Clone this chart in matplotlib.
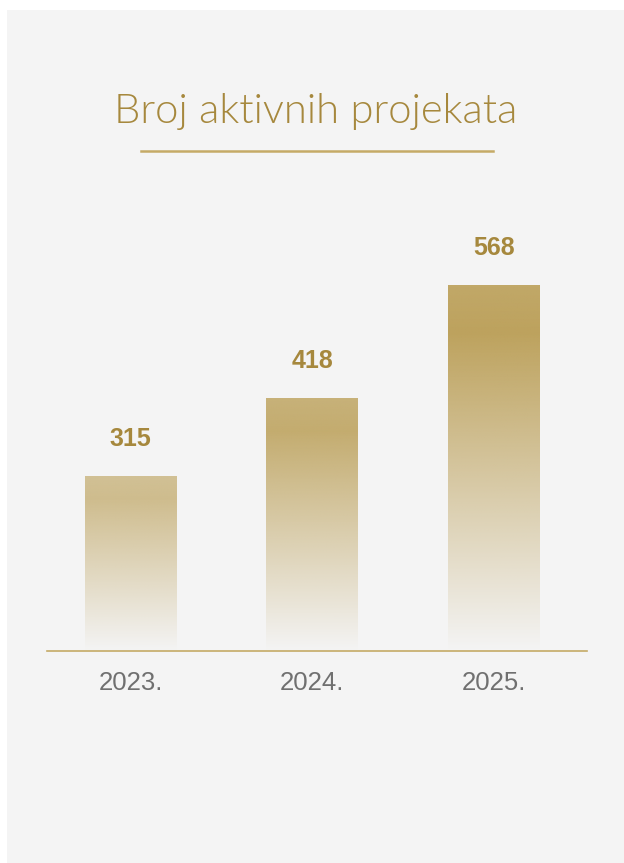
import numpy as np
import matplotlib.pyplot as plt
from matplotlib.patches import Rectangle
from matplotlib.lines import Line2D

# Podaci
years = ["2023.", "2024.", "2025."]
projects = [315, 418, 568]

# Boje
GOLD = "#bda25d"
TEXT_GOLD = "#a6883d"
LINE_GOLD = "#c5aa66"
PANEL = "#f4f4f4"
TICK_GRAY = "#707070"

# opacity of each bar (the smaller bars are lighter)
bar_fade = [0.68, 0.88, 1.0]


def gradient_rgba(n, strength):
    # top -> bottom: slightly light at top, full at ~13%, fading out at the bottom
    t = np.linspace(0, 1, n)
    alpha = np.interp(t, [0, 0.13, 1.0], [0.93, 1.0, 0.0]) * strength
    rgb = np.array(plt.matplotlib.colors.to_rgb(GOLD))
    img = np.zeros((n, 1, 4))
    img[:, 0, :3] = rgb
    img[:, 0, 3] = alpha
    return img


def main():
    fig = plt.figure(figsize=(6.24, 8.63), dpi=100)
    fig.patch.set_facecolor("white")

    # svijetlo sivi panel
    fig.patches.append(Rectangle((7 / 624, 0), 1, 853 / 863, transform=fig.transFigure,
                                 facecolor=PANEL, edgecolor="none", zorder=-10))

    ax = fig.add_axes([47 / 624, (863 - 651) / 863, 540 / 624, (651 - 180) / 863])
    ax.set_facecolor("none")

    x = np.arange(len(years))
    ymin, ymax = 84.3, 706
    bars = ax.bar(x, np.array(projects) - ymin, bottom=ymin, width=0.504,
                  color="none", edgecolor="none")

    # gradient u svakom stupcu
    for bar, s in zip(bars, bar_fade):
        x0, y0 = bar.get_x(), bar.get_y()
        img = gradient_rgba(300, s)
        im = ax.imshow(img, extent=(x0, x0 + bar.get_width(), y0, y0 + bar.get_height()),
                       origin="upper", aspect="auto", interpolation="bilinear", zorder=2)
        im.set_clip_path(bar)

    # vrijednosti iznad stupaca
    for xi, v in zip(x, projects):
        ax.annotate(str(v), xy=(xi, v), xytext=(0, 21.5), textcoords="offset points",
                    ha="center", va="baseline", fontsize=18, fontweight="bold",
                    family="Liberation Sans", color=TEXT_GOLD)

    ax.set_xlim(-0.46, 2.512)
    ax.set_ylim(ymin, ymax)

    for side in ["top", "left", "right"]:
        ax.spines[side].set_visible(False)
    ax.spines["bottom"].set_color(LINE_GOLD)
    ax.spines["bottom"].set_linewidth(1.2)

    ax.set_yticks([])
    ax.set_xticks(x)
    ax.set_xticklabels(years, fontsize=18.5, family="Liberation Sans", color=TICK_GRAY)
    ax.tick_params(axis="x", length=0, pad=14.5)

    # naslov
    fig.text(316 / 624, (863 - 123) / 863, "Broj aktivnih projekata", ha="center",
             va="baseline", fontsize=30.2, family="Lato", fontweight=300, color=TEXT_GOLD)
    fig.add_artist(Line2D([140.7 / 624, 493.3 / 624], [(863 - 150.7) / 863] * 2,
                          transform=fig.transFigure, color=LINE_GOLD, linewidth=1.8))

    fig.savefig("out.png", dpi=100)


if __name__ == "__main__":
    main()
